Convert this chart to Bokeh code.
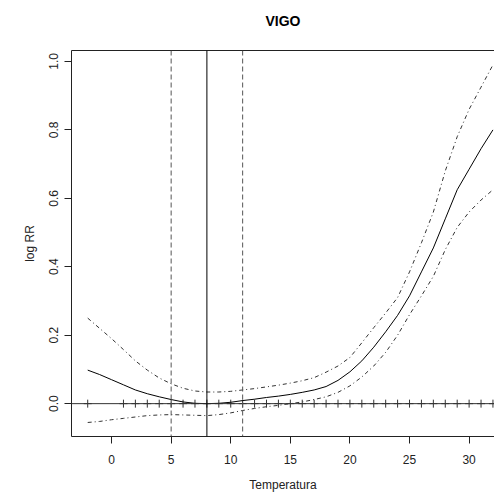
from bokeh.plotting import figure
from bokeh.models import Range1d, FixedTicker, PrintfTickFormatter, LinearAxis, Span
from bokeh.embed import file_html
from bokeh.resources import INLINE

# Data
temp = [-2, -1, 0, 1, 2, 3, 4, 5, 6, 7, 8, 9, 10, 11, 12, 13, 14, 15, 16,
        17, 18, 19, 20, 21, 22, 23, 24, 25, 26, 27, 28, 29, 30, 31, 32]
fit = [0.098, 0.085, 0.070, 0.055, 0.040, 0.029, 0.020, 0.012, 0.005, 0.001,
       0.000, 0.001, 0.004, 0.009, 0.013, 0.018, 0.022, 0.027, 0.033, 0.040,
       0.050, 0.068, 0.093, 0.125, 0.165, 0.210, 0.258, 0.315, 0.385, 0.455,
       0.540, 0.625, 0.685, 0.745, 0.800]
upper = [0.250, 0.220, 0.190, 0.158, 0.125, 0.098, 0.075, 0.058, 0.045, 0.037,
         0.034, 0.034, 0.036, 0.040, 0.044, 0.049, 0.054, 0.060, 0.067, 0.076,
         0.092, 0.110, 0.135, 0.178, 0.222, 0.265, 0.310, 0.385, 0.470, 0.560,
         0.680, 0.780, 0.860, 0.925, 0.990]
lower = [-0.055, -0.052, -0.047, -0.043, -0.039, -0.035, -0.033, -0.032, -0.033,
         -0.034, -0.035, -0.032, -0.027, -0.020, -0.014, -0.009, -0.005, 0.000,
         0.005, 0.012, 0.020, 0.033, 0.052, 0.078, 0.110, 0.150, 0.200, 0.260,
         0.315, 0.372, 0.450, 0.515, 0.560, 0.595, 0.625]
rug_x = [-2, 1, 2, 3, 4, 5, 6, 7, 8, 9, 10, 11, 12, 13, 14, 15, 16, 17, 18,
         19, 20, 21, 22, 23, 24, 25, 26, 27, 28, 29, 30, 31, 32]
rug_y = [0] * len(rug_x)
x_ticks = [0, 5, 10, 15, 20, 25, 30]
y_ticks = [0.0, 0.2, 0.4, 0.6, 0.8, 1.0]
vline_solid = 8
vlines_dashed = [5, 11]
title_text = "VIGO"

FONT = "Liberation Sans"

p = figure(width=494, height=494, output_backend="svg", toolbar_location=None,
           x_range=Range1d(-3.36, 32.13), y_range=Range1d(-0.096, 1.032),
           min_border_left=71, min_border_top=50, min_border_bottom=57,
           min_border_right=0)
p.outline_line_color = None
p.grid.visible = False
p.background_fill_color = "white"
p.border_fill_color = "white"

# axes
for ax in (p.xaxis[0], p.yaxis[0]):
    ax.axis_line_color = "#222222"
    ax.major_tick_line_color = "#222222"
    ax.major_tick_out = 7
    ax.major_tick_in = 0
    ax.minor_tick_line_color = None
    ax.major_label_text_font = FONT
    ax.major_label_text_font_size = "12px"
    ax.major_label_text_color = "#222222"
    ax.axis_label_text_font = FONT
    ax.axis_label_text_font_size = "12px"
    ax.axis_label_text_font_style = "normal"
    ax.axis_label_text_color = "#222222"

p.xaxis.ticker = FixedTicker(ticks=x_ticks)
p.xaxis.axis_label = "Temperatura"
p.xaxis.major_label_standoff = 11
p.xaxis.axis_label_standoff = 11

p.yaxis.ticker = FixedTicker(ticks=y_ticks)
p.yaxis.formatter = PrintfTickFormatter(format="%.1f")
p.yaxis.major_label_orientation = "vertical"
p.yaxis.axis_label = "log RR"
p.yaxis.major_label_standoff = 6
p.yaxis.axis_label_standoff = 10

# top box line, carrying the chart title
top = LinearAxis(ticker=FixedTicker(ticks=[]), major_label_text_font_size="0px",
                 major_tick_line_color=None, minor_tick_line_color=None,
                 major_label_standoff=0, axis_line_color="#222222",
                 axis_label=title_text, axis_label_standoff=22,
                 axis_label_text_font=FONT, axis_label_text_font_size="14px",
                 axis_label_text_font_style="bold", axis_label_text_color="black")
p.add_layout(top, "above")

# reference lines
p.add_layout(Span(location=0, dimension="width", line_color="#333333", line_width=1))
p.add_layout(Span(location=vline_solid, dimension="height", line_color="black", line_width=1))
for v in vlines_dashed:
    p.add_layout(Span(location=v, dimension="height", line_color="#555555",
                      line_width=1, line_dash="5 3"))

# rug crosses on the zero line
p.scatter(rug_x, rug_y, marker="cross", size=8, line_color="#333333", line_width=1)

# curves
p.line(temp, upper, line_color="#333333", line_width=1, line_dash="4 3 1 3")
p.line(temp, lower, line_color="#333333", line_width=1, line_dash="4 3 1 3")
p.line(temp, fit, line_color="black", line_width=1)

open("out.html", "w").write(file_html(p, INLINE))
